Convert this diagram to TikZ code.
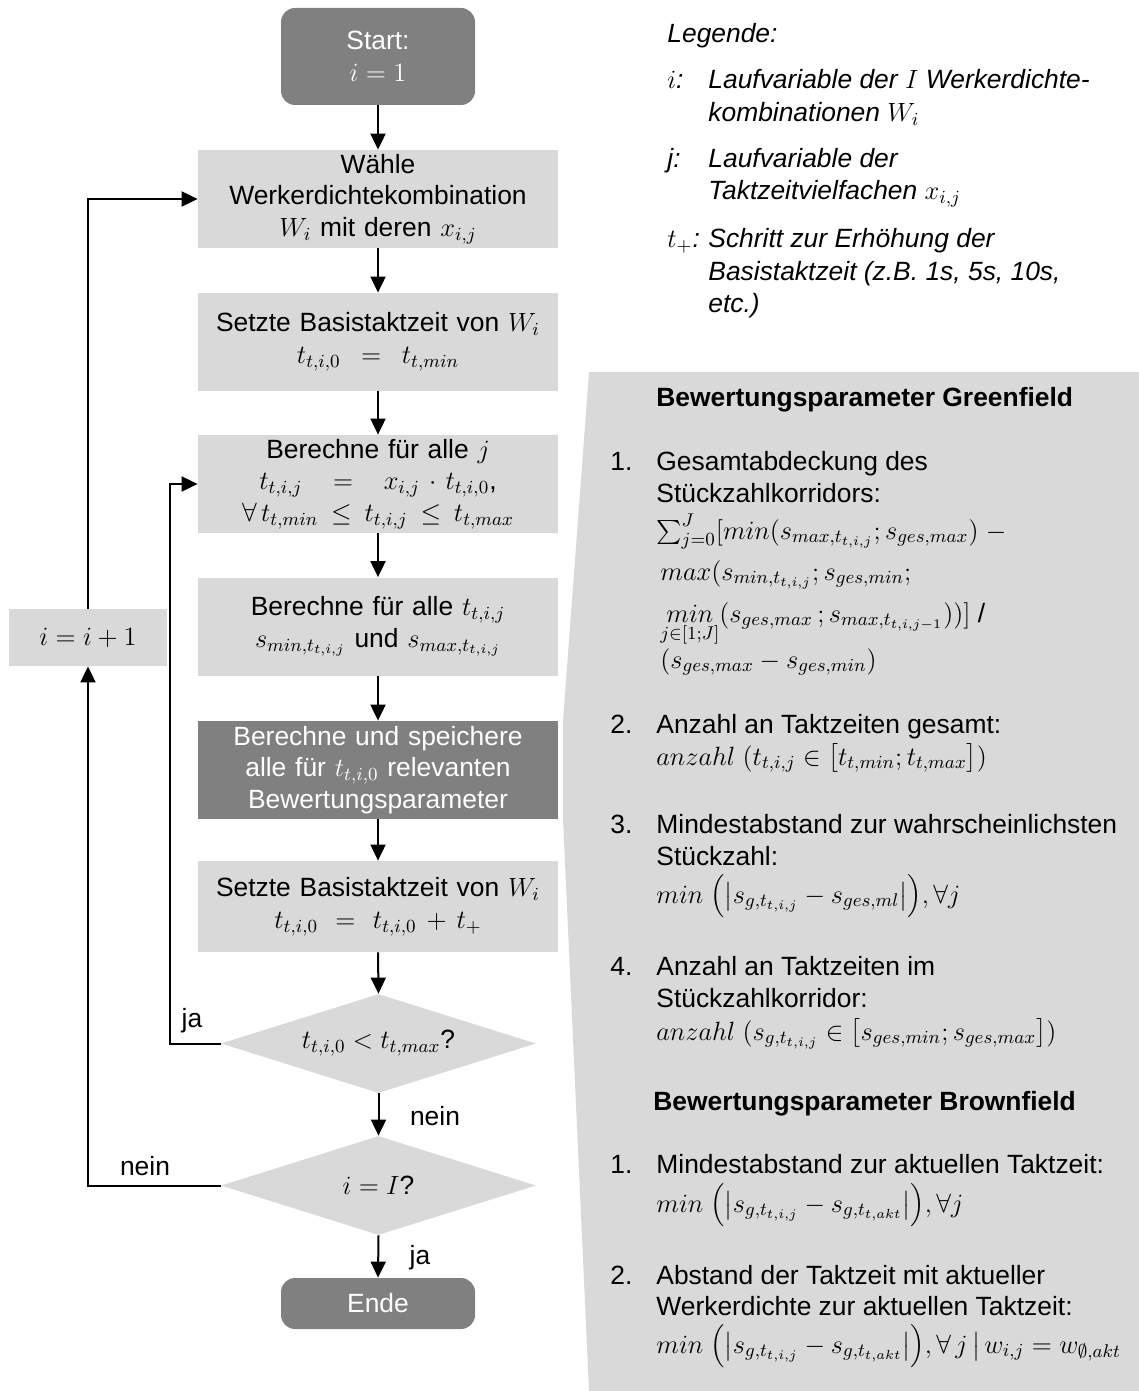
\RequirePackage{fix-cm}
\documentclass[tikz,border=0pt]{standalone}
\usepackage{amsmath}
\usepackage{fontspec}
\setmainfont{Liberation Sans}
\usetikzlibrary{shapes.geometric,arrows.meta}

\definecolor{lightfill}{HTML}{D9D9D9}
\definecolor{darkfill}{HTML}{808080}

\tikzset{
  flowbox/.style={fill=lightfill, minimum width=180pt, minimum height=49pt, text width=176pt, align=center, inner sep=0pt},
  darkbox/.style={flowbox, fill=darkfill, text=white},
  termbox/.style={fill=darkfill, text=white, rounded corners=7pt, minimum width=97pt, align=center, inner sep=0pt},
  decision/.style={diamond, fill=lightfill, minimum width=157.5pt, minimum height=49.5pt, aspect=3.18, inner sep=0pt},
  flowarrow/.style={-{Triangle[length=8pt,width=7.5pt]}, line width=1pt},
  lefttext/.style={anchor=base west, inner sep=0pt},
}

\begin{document}
\begin{tikzpicture}[x=0.5pt, y=-0.5pt, font=\fontsize{13.2pt}{15.8pt}\selectfont]
  \useasboundingbox (0,0) rectangle (1139,1391);
  % Hintergrund der Bewertungsparameter
  \fill[lightfill] (589,372) -- (1139,372) -- (1139,1391) -- (589,1391) -- (563,819) -- (563,721) -- cycle;

  % Ablauf
  \node[termbox, minimum height=48.5pt] (start) at (378,56.5) {Start:\\$i = 1$};
  \node[flowbox] (wahl) at (378,199) {W\"ahle\\Werkerdichtekombination\\$W_i$ mit deren $x_{i,j}$};
  \node[flowbox] (setz1) at (378,342) {Setzte Basistaktzeit von $W_i$\\$t_{t,i,0} = t_{t,min}$};
  \node[flowbox] (ber1) at (378,484) {Berechne f\"ur alle $j$\\$t_{t,i,j} \;=\; x_{i,j} \cdot t_{t,i,0}$,\\$\forall\, t_{t,min} \le t_{t,i,j} \le t_{t,max}$};
  \node[flowbox] (ber2) at (378,626.5) {Berechne f\"ur alle $t_{t,i,j}$\\$s_{min,t_{t,i,j}}$ und $s_{max,t_{t,i,j}}$};
  \node[darkbox] (speich) at (378,770) {Berechne und speichere\\alle f\"ur $t_{t,i,0}$ relevanten\\Bewertungsparameter};
  \node[flowbox, minimum height=45.5pt] (setz2) at (378,906.5) {Setzte Basistaktzeit von $W_i$\\$t_{t,i,0} = t_{t,i,0} + t_{+}$};
  \node[decision] (cond1) at (378.5,1043.5) {$t_{t,i,0} < t_{t,max}$?};
  \node[decision] (cond2) at (378.5,1185.5) {$i = I$?};
  \node[termbox, minimum height=25.5pt] (ende) at (378,1303.5) {Ende};
  \node[fill=lightfill, minimum width=79pt, minimum height=28.5pt, inner sep=0pt] (inc) at (88,637.5) {$i = i + 1$};

  \foreach \a/\b in {start/wahl, wahl/setz1, setz1/ber1, ber1/ber2, ber2/speich, speich/setz2, setz2/cond1, cond1/cond2, cond2/ende}
    \draw[flowarrow] (\a.south) -- (\b.north);
  \draw[flowarrow] (cond1.west) -- ++(-51,0) |- (ber1.west);
  \draw[flowarrow] (cond2.west) -| (inc.south);
  \draw[flowarrow] (inc.north) |- (wahl.west);

  \node (ja1) at (192,1021) {ja};
  \node (nein1) at (435,1116) {nein};
  \node (nein2) at (145,1166) {nein};
  \node (ja2) at (420,1258) {ja};

  % Legende
  \node[lefttext] (legtitle) at (667,43) {\itshape Legende:};
  \node[lefttext] (legi) at (667,89) {$i$\itshape :};
  \node[lefttext] (legia) at (708,89) {\itshape Laufvariable der $I$ Werkerdichte-};
  \node[lefttext] (legib) at (708,122) {\itshape kombinationen $W_i$};
  \node[lefttext] (legj) at (667,168) {\itshape j:};
  \node[lefttext] (legja) at (708,168) {\itshape Laufvariable der};
  \node[lefttext] (legjb) at (708,200) {\itshape Taktzeitvielfachen $x_{i,j}$};
  \node[lefttext] (legt) at (667,248) {$t_{+}$\itshape :};
  \node[lefttext] (legta) at (708,248) {\itshape Schritt zur Erh\"ohung der};
  \node[lefttext] (legtb) at (708,280) {\itshape Basistaktzeit (z.B. 1s, 5s, 10s,};
  \node[lefttext] (legtc) at (708,312) {\itshape etc.)};

  % Bewertungsparameter Greenfield
  \node[lefttext] (gfhead) at (656,406) {\bfseries Bewertungsparameter Greenfield};
  \node[lefttext] (g1num) at (610,470) {1.};
  \node[lefttext] (g1a) at (656,470) {Gesamtabdeckung des};
  \node[lefttext] (g1b) at (656,502) {St\"uckzahlkorridors:};
  \node[lefttext] (g1c) at (656,539) {$\sum_{j=0}^{J}[min(s_{max,t_{t,i,j}}; s_{ges,max})\ -$};
  \node[lefttext] (g1d) at (660,580) {$max(s_{min,t_{t,i,j}}; s_{ges,min};$};
  \node[lefttext] (g1e) at (660,622) {$\mathop{min}\limits_{j\in[1;J]}(s_{ges,max}\,; s_{max,t_{t,i,j-1}}))]$ /};
  \node[lefttext] (g1f) at (660,668) {$(s_{ges,max} - s_{ges,min})$};
  \node[lefttext] (g2num) at (610,733) {2.};
  \node[lefttext] (g2a) at (656,733) {Anzahl an Taktzeiten gesamt:};
  \node[lefttext] (g2b) at (656,765) {$anzahl\ (t_{t,i,j} \in \bigl[t_{t,min}; t_{t,max}\bigr])$};
  \node[lefttext] (g3num) at (610,833) {3.};
  \node[lefttext] (g3a) at (656,833) {Mindestabstand zur wahrscheinlichsten};
  \node[lefttext] (g3b) at (656,865) {St\"uckzahl:};
  \node[lefttext] (g3c) at (656,903) {$min\ \Bigl(\bigl|s_{g,t_{t,i,j}} - s_{ges,ml}\bigr|\Bigr), \forall j$};
  \node[lefttext] (g4num) at (610,975) {4.};
  \node[lefttext] (g4a) at (656,975) {Anzahl an Taktzeiten im};
  \node[lefttext] (g4b) at (656,1007) {St\"uckzahlkorridor:};
  \node[lefttext] (g4c) at (656,1040) {$anzahl\ (s_{g,t_{t,i,j}} \in \bigl[s_{ges,min}; s_{ges,max}\bigr])$};

  % Bewertungsparameter Brownfield
  \node[lefttext] (bfhead) at (653,1110) {\bfseries Bewertungsparameter Brownfield};
  \node[lefttext] (b1num) at (610,1173) {1.};
  \node[lefttext] (b1a) at (656,1173) {Mindestabstand zur aktuellen Taktzeit:};
  \node[lefttext] (b1b) at (656,1212) {$min\ \Bigl(\bigl|s_{g,t_{t,i,j}} - s_{g,t_{t,akt}}\bigr|\Bigr), \forall j$};
  \node[lefttext] (b2num) at (610,1284) {2.};
  \node[lefttext] (b2a) at (656,1284) {Abstand der Taktzeit mit aktueller};
  \node[lefttext] (b2b) at (656,1315) {Werkerdichte zur aktuellen Taktzeit:};
  \node[lefttext] (b2c) at (656,1353) {$min\ \Bigl(\bigl|s_{g,t_{t,i,j}} - s_{g,t_{t,akt}}\bigr|\Bigr), \forall\, j \,\big|\, w_{i,j} = w_{\emptyset,akt}$};
\end{tikzpicture}
\end{document}
